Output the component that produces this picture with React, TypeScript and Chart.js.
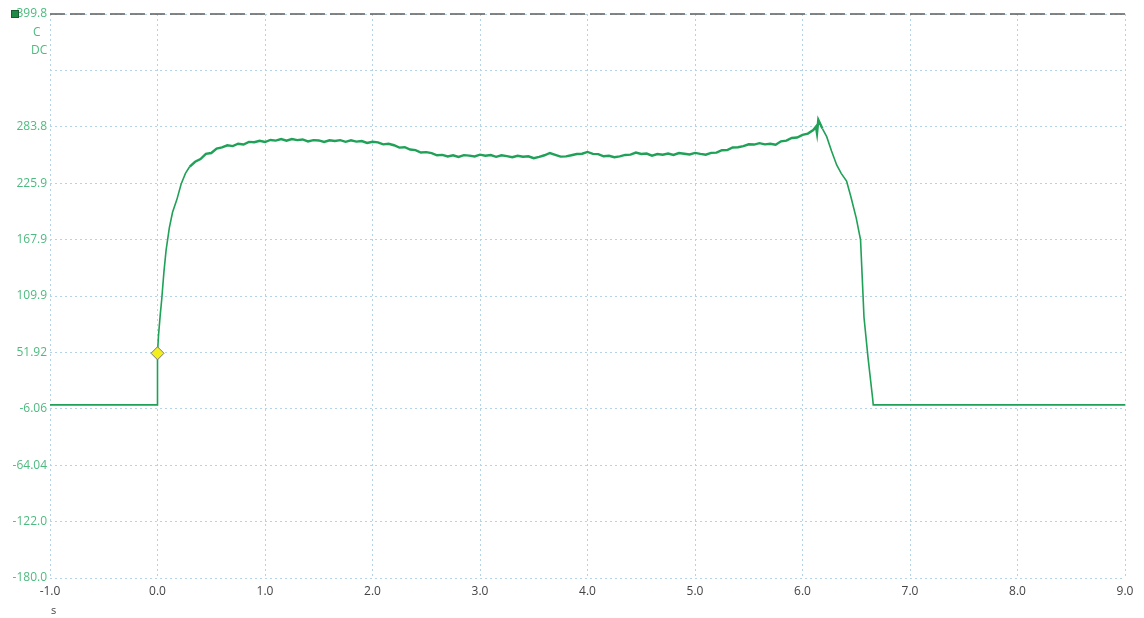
import React, { useEffect, useRef } from "react";
import { Chart, registerables } from "chart.js";

Chart.register(...registerables);

const yTickValues = [399.8, 341.82, 283.8, 225.9, 167.9, 109.9, 51.92, -6.06, -64.04, -122.0, -180.0];
const yTickLabels = ["399.8", "", "283.8", "225.9", "167.9", "109.9", "51.92", "-6.06", "-64.04", "-122.0", "-180.0"];
const xTickValues = [-1, 0, 1, 2, 3, 4, 5, 6, 7, 8, 9];
const xTickLabels = ["-1.0", "0.0", "1.0", "2.0", "3.0", "4.0", "5.0", "6.0", "7.0", "8.0", "9.0"];

const riseTimes = [-1.0, 0.0, 0.0, 0.01, 0.025, 0.039, 0.06, 0.08, 0.11, 0.14, 0.18, 0.22, 0.26];
const riseValues = [-2.0, -2.0, 51.92, 70, 90, 106, 135, 157, 180, 196, 209, 225, 236];

const plateauTimes = [
  0.30, 0.35, 0.40, 0.45, 0.50, 0.55, 0.60, 0.65, 0.70, 0.75, 0.80, 0.85, 0.90, 0.95,
  1.00, 1.05, 1.10, 1.15, 1.20, 1.25, 1.30, 1.35, 1.40, 1.45, 1.50, 1.55, 1.60, 1.65, 1.70, 1.75,
  1.80, 1.85, 1.90, 1.95, 2.00, 2.05, 2.10, 2.15, 2.20, 2.25, 2.30, 2.35, 2.40, 2.45, 2.50, 2.55,
  2.60, 2.65, 2.70, 2.75, 2.80, 2.85, 2.90, 2.95, 3.00, 3.05, 3.10, 3.15, 3.20, 3.25, 3.30, 3.35,
  3.40, 3.45, 3.50, 3.55, 3.60, 3.65, 3.70, 3.75, 3.80, 3.85, 3.90, 3.95, 4.00, 4.05, 4.10, 4.15,
  4.20, 4.25, 4.30, 4.35, 4.40, 4.45, 4.50, 4.55, 4.60, 4.65, 4.70, 4.75, 4.80, 4.85, 4.90, 4.95,
  5.00, 5.05, 5.10, 5.15, 5.20, 5.25, 5.30, 5.35, 5.40, 5.45, 5.50, 5.55, 5.60, 5.65, 5.70, 5.75,
  5.80, 5.85, 5.90, 5.95, 6.00, 6.05, 6.10,
];
const plateauValues = [
  243.0, 247.9, 250.7, 256.0, 256.9, 261.4, 262.6, 264.8, 264.0, 266.4, 265.6, 268.3, 268.0, 269.5,
  268.2, 270.3, 269.6, 271.2, 269.5, 271.3, 270.2, 270.8, 268.8, 270.1, 269.8, 268.3, 270.0, 269.2, 270.1, 268.4,
  269.9, 268.6, 269.2, 267.2, 268.5, 267.9, 265.8, 266.4, 264.9, 262.4, 262.8, 260.5, 259.9, 257.4, 257.8, 256.8,
  254.6, 255.0, 253.4, 254.5, 252.9, 254.7, 254.2, 253.4, 255.2, 254.1, 254.8, 253.0, 254.5, 253.7, 252.6, 254.0,
  253.0, 253.5, 251.6, 253.0, 254.6, 256.9, 255.0, 253.2, 253.4, 254.6, 255.9, 256.2, 258.0, 256.0, 255.8, 253.5,
  254.0, 252.6, 253.4, 254.9, 255.2, 257.4, 255.9, 256.3, 254.2, 255.8, 255.1, 256.4, 254.9, 256.9, 256.1, 255.4,
  257.0, 256.0, 255.2, 257.0, 257.3, 259.8, 259.9, 262.6, 262.8, 264.0, 265.9, 265.6, 267.0, 265.8, 266.4, 265.4,
  268.9, 269.6, 272.3, 272.8, 275.6, 276.9, 280.5,
];

const fallTimes = [6.125, 6.135, 6.147, 6.185, 6.225, 6.27, 6.318, 6.36, 6.41, 6.45, 6.50, 6.54, 6.556, 6.572, 6.61, 6.653, 6.658, 9.0];
const fallValues = [284, 277, 291, 282, 273.7, 259, 244.6, 236, 228, 212, 190, 167.5, 128, 88, 46, 4, -2.0, -2.0];

const markerTime = 0.0;
const markerValue = 51.0;

const GREEN_TEXT = "#4dba7f";
const LINE_GREEN = "#1fa157";
const FONT = "'Open Sans', 'Noto Sans', sans-serif";

export default function App() {
  const ref = useRef<HTMLCanvasElement | null>(null);

  useEffect(() => {
    document.body.style.margin = "0";
    const canvas = ref.current;
    if (!canvas) return;

    const times = [...riseTimes, ...plateauTimes, ...fallTimes];
    const values = [...riseValues, ...plateauValues, ...fallValues];
    const pts = times.map((t, i) => ({ x: t, y: values[i] }));

    const overlay = {
      id: "overlay",
      afterDatasetsDraw(chart: any) {
        const { ctx, chartArea, scales } = chart;
        const yTop = scales.y.getPixelForValue(399.8);
        ctx.save();
        ctx.strokeStyle = "#5e5e5e";
        ctx.lineWidth = 1.5;
        ctx.setLineDash([15, 5]);
        ctx.beginPath();
        ctx.moveTo(chartArea.left, yTop);
        ctx.lineTo(chartArea.right, yTop);
        ctx.stroke();
        ctx.setLineDash([]);
        ctx.restore();
      },
      afterDraw(chart: any) {
        const { ctx, chartArea, scales } = chart;
        const yTop = scales.y.getPixelForValue(399.8);
        ctx.save();
        ctx.fillStyle = "#1f8a45";
        ctx.strokeStyle = "#155e30";
        ctx.lineWidth = 1;
        ctx.fillRect(11, yTop - 4, 8, 8);
        ctx.strokeRect(11.5, yTop - 3.5, 7, 7);
        ctx.fillStyle = GREEN_TEXT;
        ctx.font = `12px ${FONT}`;
        ctx.textAlign = "left";
        ctx.textBaseline = "middle";
        ctx.fillText("C", 33, yTop + 19);
        ctx.fillText("DC", 31, yTop + 37);
        ctx.fillStyle = "#444";
        ctx.font = `11px ${FONT}`;
        ctx.fillText("s", chartArea.left + 1, 611);
        ctx.restore();
      },
    };

    const chart = new Chart(canvas, {
      type: "line",
      data: {
        datasets: [
          {
            data: [{ x: markerTime, y: markerValue }],
            showLine: false,
            pointStyle: "rectRot",
            pointRadius: 6.5,
            backgroundColor: "#f4ee1a",
            borderColor: "#777",
            borderWidth: 1,
            order: 0,
          },
          {
            data: pts,
            borderColor: LINE_GREEN,
            borderWidth: 1.6,
            pointRadius: 0,
            tension: 0,
            fill: false,
            order: 1,
            segment: {
              borderWidth: (c: any) => (c.p0.parsed.x >= 0.3 && c.p1.parsed.x <= 6.2 ? 2.4 : 1.6),
            },
          },
        ],
      },
      options: {
        responsive: false,
        animation: false,
        events: [],
        layout: { padding: { left: 0, right: 19, top: 14, bottom: 0 } },
        plugins: { legend: { display: false }, tooltip: { enabled: false } },
        scales: {
          x: {
            type: "linear",
            min: -1,
            max: 9,
            afterBuildTicks: (scale: any) => {
              scale.ticks = xTickValues.map((v) => ({ value: v }));
            },
            afterFit: (scale: any) => {
              scale.height = 40;
            },
            ticks: {
              callback: (_v: any, i: number) => xTickLabels[i],
              color: "#444",
              font: { size: 12, family: FONT },
              padding: 6,
              maxRotation: 0,
              autoSkip: false,
            },
            grid: { color: "#b3d4e8", lineWidth: 1, drawTicks: false },
            border: { display: false, dash: [2, 3] },
          },
          y: {
            type: "linear",
            min: -180,
            max: 399.8,
            afterBuildTicks: (scale: any) => {
              scale.ticks = yTickValues.map((v) => ({ value: v }));
            },
            afterFit: (scale: any) => {
              scale.width = 50;
            },
            ticks: {
              callback: (_v: any, i: number) => yTickLabels[i],
              color: GREEN_TEXT,
              font: { size: 12, family: FONT },
              padding: 3,
              autoSkip: false,
            },
            grid: { color: "#b3d4e8", lineWidth: 1, drawTicks: false },
            border: { display: false, dash: [2, 3] },
          },
        },
      },
      plugins: [overlay],
    } as any);

    return () => chart.destroy();
  }, []);

  return (
    <div style={{ width: 1144, height: 618, background: "#fff" }}>
      <canvas ref={ref} width={1144} height={618} style={{ display: "block" }} />
    </div>
  );
}
